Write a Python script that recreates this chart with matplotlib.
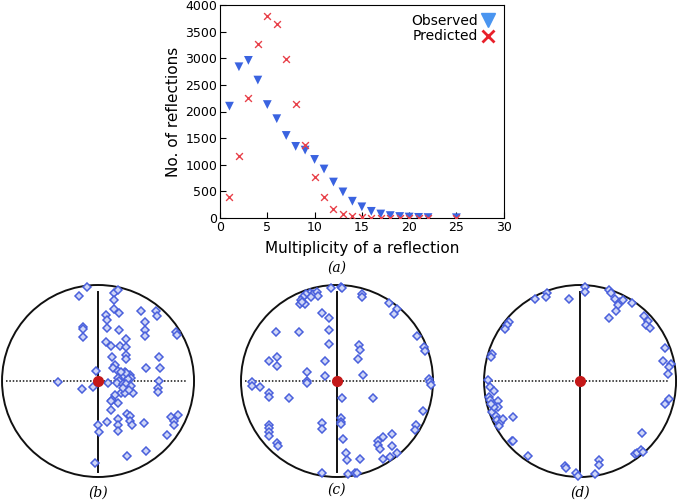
import matplotlib
matplotlib.use("Agg")
import matplotlib.pyplot as plt
from matplotlib.lines import Line2D
from matplotlib.patches import Circle
import numpy as np

# ---- panel (a) data ----
mult_obs = [1, 2, 3, 4, 5, 6, 7, 8, 9, 10, 11, 12, 13, 14, 15, 16, 17, 18, 19, 20, 21, 22, 25]
observed = [2100, 2840, 2960, 2590, 2130, 1865, 1550, 1345, 1275, 1100, 920, 675, 490, 315, 210, 125, 75, 45, 28, 18, 12, 8, 5]
mult_pred = [1, 2, 3, 4, 5, 6, 7, 8, 9, 10, 11, 12, 13, 14, 15, 16, 17, 18, 19, 20, 21, 22, 25]
predicted = [385, 1155, 2245, 3275, 3785, 3640, 2990, 2145, 1365, 770, 395, 170, 75, 30, 10, 5, 3, 2, 2, 2, 2, 2, 2]

# ---- stereographic projections (unit circle coordinates) ----
b_u = [-0.11, -0.20, 0.17, 0.21, 0.17, 0.17, 0.22, 0.08, 0.09, 0.45, 0.60, 0.61, 0.49, -0.16, -0.16, -0.16,
       0.09, 0.22, 0.49, 0.49, 0.81, 0.82, 0.08, 0.29, 0.14, 0.23, 0.29, 0.29, 0.29, 0.15, 0.63, 0.65, 0.50,
       0.18, 0.16, 0.21, -0.02, 0.28, 0.33, 0.26, 0.21, 0.34, 0.22, 0.31, -0.42, -0.17, -0.05, 0.10, 0.20,
       0.26, 0.29, 0.34, 0.36, 0.24, 0.28, 0.63, 0.62, 0.62, 0.18, 0.15, 0.13, 0.21, 0.14, 0.30, 0.33, 0.09,
       0.00, 0.01, 0.21, 0.21, 0.21, 0.33, 0.35, 0.48, 0.76, 0.83, 0.79, 0.79, 0.72, 0.30, 0.50, -0.03,
       0.29, 0.24, 0.26, 0.32]
b_v = [0.98, 0.89, 0.92, 0.95, 0.84, 0.75, 0.71, 0.69, 0.64, 0.73, 0.73, 0.68, 0.61, 0.56, 0.54, 0.46,
       0.55, 0.53, 0.53, 0.47, 0.51, 0.48, 0.41, 0.44, 0.36, 0.36, 0.35, 0.27, 0.23, 0.25, 0.25, 0.14, 0.14,
       0.17, 0.14, 0.10, 0.10, 0.09, 0.06, 0.05, 0.03, 0.03, 0.00, 0.02, -0.01, -0.08, -0.06, -0.02, -0.02,
       -0.03, -0.03, -0.05, -0.12, -0.13, -0.13, 0.00, -0.07, -0.11, -0.15, -0.20, -0.21, -0.23, -0.30, -0.34,
       -0.36, -0.43, -0.46, -0.53, -0.40, -0.46, -0.52, -0.42, -0.46, -0.44, -0.38, -0.35, -0.42, -0.46,
       -0.56, -0.78, -0.73, -0.85, 0.08, 0.09, -0.07, -0.09]

c_u = [-0.06, 0.04, 0.05, 0.26, 0.26, 0.54, 0.62, 0.59, -0.28, -0.25, -0.21, -0.20, -0.32, -0.27, -0.35,
       -0.37, -0.39, -0.33, -0.36, -0.16, -0.08, -0.08, -0.08, -0.64, -0.40, 0.23, 0.24, 0.22, 0.83, 0.91,
       0.92, -0.71, -0.63, -0.63, -0.13, -0.31, -0.12, 0.27, -0.89, -0.89, -0.80, -0.31, -0.31, 0.96, 0.97,
       0.98, -0.71, -0.71, -0.50, 0.05, 0.38, 0.90, -0.71, -0.71, -0.71, -0.71, -0.16, -0.16, 0.04, 0.04,
       0.04, 0.06, -0.62, -0.61, 0.48, 0.43, 0.43, 0.45, 0.57, 0.57, 0.82, 0.81, 0.09, 0.10, 0.24, 0.48,
       0.55, 0.63, -0.16, 0.11, 0.19, 0.21]
c_v = [0.97, 0.98, 0.97, 0.91, 0.87, 0.81, 0.75, 0.70, 0.92, 0.91, 0.93, 0.89, 0.91, 0.88, 0.87, 0.84,
       0.80, 0.80, 0.82, 0.71, 0.66, 0.53, 0.39, 0.51, 0.51, 0.37, 0.32, 0.23, 0.47, 0.35, 0.31, 0.21, 0.25,
       0.16, 0.21, 0.09, 0.05, 0.06, -0.01, -0.05, -0.06, 0.00, -0.02, 0.02, -0.01, -0.04, -0.13, -0.17,
       -0.18, -0.18, -0.18, -0.31, -0.46, -0.49, -0.53, -0.57, -0.44, -0.50, -0.39, -0.43, -0.45, -0.60,
       -0.65, -0.68, -0.58, -0.63, -0.67, -0.71, -0.55, -0.68, -0.46, -0.51, -0.75, -0.82, -0.81, -0.81,
       -0.79, -0.75, -0.96, -0.97, -0.96, -0.96]

d_u = [0.05, 0.05, -0.34, -0.35, -0.47, -0.12, 0.30, 0.32, 0.36, 0.42, 0.45, 0.40, 0.54, 0.37, 0.30, 0.67,
       0.71, 0.69, 0.73, -0.74, -0.76, -0.78, -0.92, -0.93, 0.89, 0.86, 0.95, 0.93, 0.92, -0.96, -0.94,
       -0.90, -0.95, -0.94, -0.85, -0.85, -0.92, -0.88, -0.87, -0.83, -0.80, -0.90, -0.93, -0.84, -0.70,
       0.93, 0.88, -0.71, -0.70, 0.65, -0.54, 0.57, 0.59, 0.64, 0.66, -0.16, -0.15, 0.20, 0.20, 0.16,
       -0.04, -0.02]
d_v = [0.98, 0.93, 0.92, 0.87, 0.85, 0.85, 0.95, 0.92, 0.85, 0.82, 0.84, 0.79, 0.81, 0.73, 0.66, 0.68,
       0.63, 0.58, 0.55, 0.61, 0.58, 0.54, 0.28, 0.25, 0.34, 0.21, 0.18, 0.15, 0.07, 0.01, -0.06, -0.10,
       -0.17, -0.20, -0.21, -0.27, -0.32, -0.36, -0.41, -0.44, -0.40, -0.27, -0.24, -0.47, -0.37, -0.19,
       -0.24, -0.62, -0.63, -0.54, -0.78, -0.76, -0.75, -0.72, -0.74, -0.89, -0.91, -0.82, -0.88, -0.97,
       -0.96, -0.99]

panels = [("(b)", b_u, b_v), ("(c)", c_u, c_v), ("(d)", d_u, d_v)]

plt.rcParams['font.family'] = ['DejaVu Sans']
fig = plt.figure(figsize=(6.77, 5.0), dpi=100)

# ---- panel (a) ----
ax = fig.add_axes([0.325, 0.564, 0.419, 0.426])
ax.scatter(mult_obs, observed, marker='v', s=40, color='#3a63e0', edgecolors='none', zorder=3)
ax.scatter(mult_pred, predicted, marker='x', s=24, color='#e8414a', linewidths=1.0, zorder=4)
ax.set_xlim(0, 30)
ax.set_ylim(0, 4000)
ax.set_xticks([0, 5, 10, 15, 20, 25, 30])
ax.set_yticks([0, 500, 1000, 1500, 2000, 2500, 3000, 3500, 4000])
ax.tick_params(direction='in', labelsize=9, length=4, width=0.8, pad=2)
for s in ax.spines.values():
    s.set_linewidth(0.8)
ax.set_xlabel("Multiplicity of a reflection", fontsize=11, labelpad=5)
ax.set_ylabel("No. of reflections", fontsize=11, labelpad=3)
handles = [Line2D([], [], marker='v', ls='none', color='#4a95f0', markersize=9.5),
           Line2D([], [], marker='x', ls='none', color='#e8202a', markersize=8, mew=2)]
ax.legend(handles, ["Observed", "Predicted"], loc='upper right', frameon=False,
          markerfirst=False, fontsize=10, handletextpad=0.2, borderaxespad=0.25,
          labelspacing=0.1, handlelength=1.0)

fig.text(0.498, 0.464, "(a)", fontsize=10, family='DejaVu Serif', style='italic', ha='center', va='center')

# ---- panels (b)-(d) ----
lefts = [0.003, 0.356, 0.715]
caption_y = [0.014, 0.02, 0.014]
for (label, u, v), left, cy in zip(panels, lefts, caption_y):
    a = fig.add_axes([left, 0.046, 0.2836, 0.384])
    a.set_xlim(-1, 1)
    a.set_ylim(-1, 1)
    a.axis('off')
    a.add_patch(Circle((0, 0), 1.0, fill=False, ec='#111111', lw=1.4, clip_on=False))
    a.plot([0, 0], [-0.95, 0.93], color='#111111', lw=1.4, clip_on=False, zorder=2)
    a.plot([-0.96, 0.93], [0, 0], color='#111111', lw=1.1, ls=(0, (1, 1.2)), clip_on=False, zorder=2)
    a.plot(u, v, ls='none', marker='D', markersize=4.2, mfc='#cfd6f7', mec='#4a60dc', mew=1.1,
           clip_on=False, zorder=3)
    a.plot([0], [0], marker='o', markersize=7, color='#c41818', clip_on=False, zorder=4)
    fig.text(left + 0.1418, cy, label, fontsize=10, family='DejaVu Serif', style='italic',
             ha='center', va='center')

fig.savefig("out.png", dpi=100)
